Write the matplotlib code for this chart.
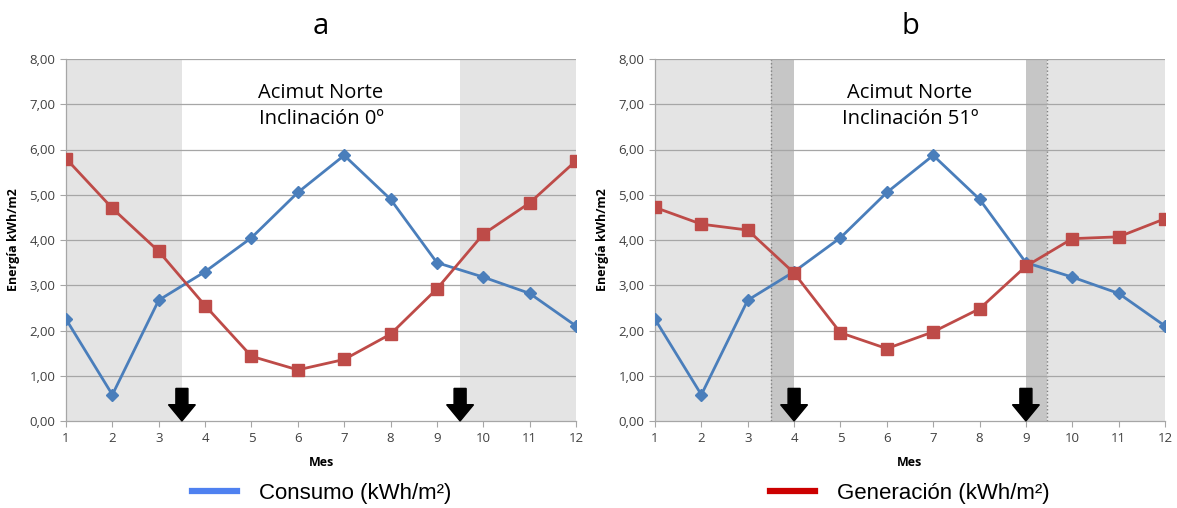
import numpy as np
import matplotlib
matplotlib.use('Agg')
import matplotlib.pyplot as plt
from matplotlib.lines import Line2D
from matplotlib.patches import Polygon

plt.rcParams['font.family'] = ['Open Sans', 'DejaVu Sans']

# #### DATA ####
months = list(range(1, 13))
consumo = [2.25, 0.58, 2.67, 3.30, 4.05, 5.05, 5.87, 4.90, 3.50, 3.18, 2.82, 2.10]
generacion_a = [5.80, 4.70, 3.75, 2.55, 1.43, 1.13, 1.36, 1.92, 2.92, 4.13, 4.82, 5.75]
generacion_b = [4.72, 4.35, 4.22, 3.27, 1.95, 1.60, 1.97, 2.48, 3.42, 4.03, 4.07, 4.47]
panel_titles = ['a', 'b']
panel_notes = ['Acimut Norte\nInclinación 0º', 'Acimut Norte\nInclinación 51º']
# shaded month ranges (light) and darker transition ranges per panel
light_spans = [[(1, 3.5), (9.5, 12)], [(1, 3.5), (9.45, 12)]]
dark_spans = [[], [(3.5, 4), (9, 9.45)]]
dotted_lines = [[], [3.5, 9.45]]
arrows = [[3.5, 9.5], [4, 9]]
yticks = np.arange(0, 9, 1)

BLUE = '#4a7ebb'
RED = '#be4b48'
LIGHT = '#e4e4e4'
DARK = '#c6c6c6'
GRID = '#a6a6a6'
LEG_FONT = ['Liberation Sans', 'DejaVu Sans']


def draw_arrow(ax, x):
    # block arrow pointing down, tip on the x axis
    sw, hw, hh, top = 0.13, 0.29, 0.36, 0.72
    pts = [(x - sw, top), (x + sw, top), (x + sw, hh), (x + hw, hh),
           (x, 0), (x - hw, hh), (x - sw, hh)]
    ax.add_patch(Polygon(pts, closed=True, color='black', zorder=6, clip_on=False))


fig = plt.figure(figsize=(11.77, 5.08), dpi=100)
lefts = [66 / 1177, 655 / 1177]
width = 510 / 1177
bottom, height = 1 - 421 / 508, 362 / 508

for i, gen in enumerate([generacion_a, generacion_b]):
    ax = fig.add_axes([lefts[i], bottom, width, height])
    for a, b in light_spans[i]:
        ax.axvspan(a, b, color=LIGHT, lw=0, zorder=0)
    for a, b in dark_spans[i]:
        ax.axvspan(a, b, color=DARK, lw=0, zorder=0)
    for x in dotted_lines[i]:
        ax.axvline(x, color='#808080', lw=1.0, ls=':', zorder=1)
    for y in yticks[1:]:
        ax.axhline(y, color=GRID, lw=0.9, zorder=1)

    ax.plot(months, consumo, color=BLUE, lw=2.0, marker='D', ms=6.5, zorder=4)
    ax.plot(months, gen, color=RED, lw=2.0, marker='s', ms=8, zorder=5)
    for x in arrows[i]:
        draw_arrow(ax, x)

    ax.set_xlim(1, 12)
    ax.set_ylim(0, 8)
    ax.set_xticks(months)
    ax.set_yticks(yticks)
    ax.set_yticklabels([('%.2f' % v).replace('.', ',') for v in yticks])
    ax.tick_params(axis='both', labelsize=9.5, colors='#404040', length=4,
                   width=0.8, color=GRID)
    ax.tick_params(axis='x', pad=4)
    for s in ['top', 'right']:
        ax.spines[s].set_visible(False)
    for s in ['left', 'bottom']:
        ax.spines[s].set_color(GRID)
        ax.spines[s].set_linewidth(0.9)
    ax.set_xlabel('Mes', fontsize=9, fontweight='bold', labelpad=8)
    ax.set_ylabel('Energía kWh/m2', fontsize=9, fontweight='bold', labelpad=7)
    ax.set_title(panel_titles[i], fontsize=21, pad=18)
    ax.text(0.5, 0.87, panel_notes[i], transform=ax.transAxes, ha='center',
            va='center', fontsize=14.5, linespacing=1.35, zorder=7)

fig.legend(handles=[Line2D([], [], color='#4f81f0', lw=4.5)],
           labels=['Consumo (kWh/m²)'], loc='center left',
           bbox_to_anchor=(181 / 1177, 1 - 493 / 508), frameon=False,
           handlelength=2.0, borderpad=0, handletextpad=1.0,
           prop={'family': LEG_FONT, 'size': 16})
fig.legend(handles=[Line2D([], [], color='#cc0000', lw=4.5)],
           labels=['Generación (kWh/m²)'], loc='center left',
           bbox_to_anchor=(759 / 1177, 1 - 493 / 508), frameon=False,
           handlelength=2.0, borderpad=0, handletextpad=1.0,
           prop={'family': LEG_FONT, 'size': 16})

fig.savefig('out.png', dpi=100)
